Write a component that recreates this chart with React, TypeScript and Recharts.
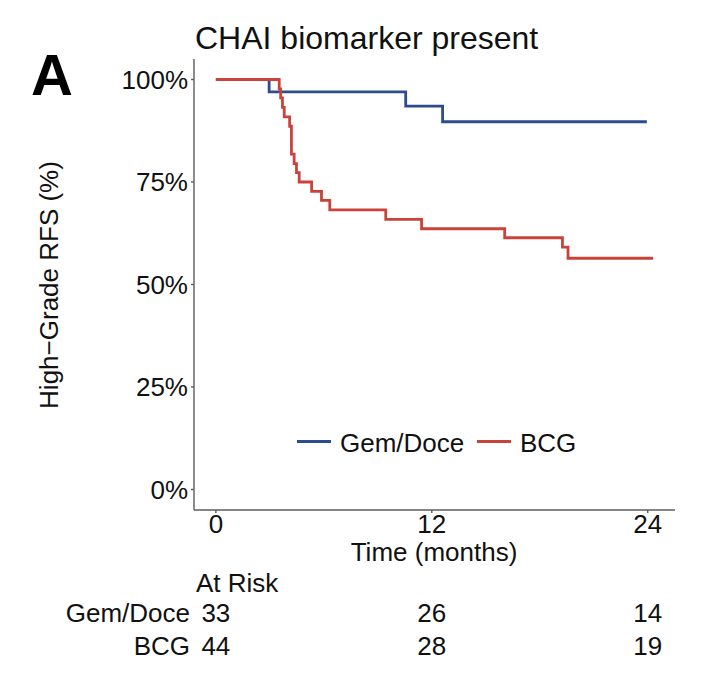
import React from 'react';
import { LineChart, Line, XAxis, YAxis } from 'recharts';

// Kaplan-Meier estimates (time in months, survival in %)
const gemDoceCurve = [
  { t: 0, s: 100 },
  { t: 2.96, s: 97.0 },
  { t: 10.55, s: 93.5 },
  { t: 12.6, s: 89.7 },
  { t: 23.95, s: 89.7 },
];

const bcgCurve = [
  { t: 0, s: 100 },
  { t: 3.52, s: 97.7 },
  { t: 3.6, s: 95.5 },
  { t: 3.7, s: 93.2 },
  { t: 3.8, s: 90.9 },
  { t: 4.1, s: 88.6 },
  { t: 4.2, s: 81.8 },
  { t: 4.35, s: 79.5 },
  { t: 4.48, s: 77.3 },
  { t: 4.63, s: 75.0 },
  { t: 5.32, s: 72.7 },
  { t: 5.87, s: 70.5 },
  { t: 6.33, s: 68.2 },
  { t: 9.44, s: 65.9 },
  { t: 11.43, s: 63.6 },
  { t: 16.05, s: 61.4 },
  { t: 19.26, s: 59.1 },
  { t: 19.57, s: 56.4 },
  { t: 24.3, s: 56.4 },
];

const timeTicks = [0, 12, 24];
const survivalTicks = [0, 25, 50, 75, 100];

const seriesNames = ['Gem/Doce', 'BCG'];
const seriesColors = ['#2C4C8D', '#C9433A'];
const atRiskGemDoce = [33, 26, 14];
const atRiskBcg = [44, 28, 19];

const FONT = '"Liberation Sans", Arial, Helvetica, sans-serif';
const AXIS_COLOR = '#5c5c5c';

const TimeTick = (props: any) => {
  const { x, y, payload } = props;
  const i = timeTicks.indexOf(payload.value);
  return (
    <g fontFamily={FONT} fontSize={26} fill="#111">
      <text x={x} y={y} dy="0.71em" textAnchor="middle">{payload.value}</text>
      <text x={x} y={622} textAnchor="middle">{atRiskGemDoce[i]}</text>
      <text x={x} y={655} textAnchor="middle">{atRiskBcg[i]}</text>
    </g>
  );
};

export default function App() {
  const legendX = [297, 477];
  return (
    <div style={{ position: 'absolute', left: 0, top: 0, width: 702, height: 690, background: '#fff' }}>
      <LineChart
        width={702}
        height={690}
        margin={{ top: 59, right: 27, bottom: 150, left: 134 }}
      >
        <XAxis
          type="number"
          dataKey="t"
          domain={[-1.215, 25.515]}
          allowDataOverflow
          ticks={timeTicks}
          height={30}
          tickSize={3}
          tickMargin={2}
          stroke={AXIS_COLOR}
          strokeWidth={1.4}
          tick={<TimeTick />}
        />
        <YAxis
          type="number"
          dataKey="s"
          domain={[-5, 105]}
          allowDataOverflow
          ticks={survivalTicks}
          width={60}
          tickSize={3}
          tickMargin={3}
          stroke={AXIS_COLOR}
          strokeWidth={1.4}
          tickFormatter={(v) => `${v}%`}
          tick={{ fill: '#111', fontSize: 26, fontFamily: FONT }}
        />
        <Line
          data={gemDoceCurve}
          dataKey="s"
          type="stepAfter"
          stroke={seriesColors[0]}
          strokeWidth={2.8}
          dot={false}
          activeDot={false}
          isAnimationActive={false}
        />
        <Line
          data={bcgCurve}
          dataKey="s"
          type="stepAfter"
          stroke={seriesColors[1]}
          strokeWidth={2.8}
          dot={false}
          activeDot={false}
          isAnimationActive={false}
        />
      </LineChart>
      <svg
        width={702}
        height={690}
        style={{ position: 'absolute', left: 0, top: 0, pointerEvents: 'none' }}
        fontFamily={FONT}
      >
        <text x={31} y={95} fontSize={58} fontWeight="bold" fill="#000">A</text>
        <text x={195} y={49} fontSize={32} fill="#111">CHAI biomarker present</text>
        <text
          x={58}
          y={285}
          fontSize={26}
          fill="#111"
          textAnchor="middle"
          transform="rotate(-90 58 285)"
        >
          High−Grade RFS (%)
        </text>
        <text x={434} y={561} fontSize={26} fill="#111" textAnchor="middle">Time (months)</text>
        <text x={196} y={592} fontSize={26} fill="#111">At Risk</text>
        <text x={190} y={622} fontSize={26} fill="#111" textAnchor="end">{seriesNames[0]}</text>
        <text x={190} y={655} fontSize={26} fill="#111" textAnchor="end">{seriesNames[1]}</text>
        {seriesNames.map((name, i) => (
          <g key={name}>
            <line x1={legendX[i]} x2={legendX[i] + 34} y1={441.5} y2={441.5} stroke={seriesColors[i]} strokeWidth={2.8} />
            <text x={legendX[i] + 43} y={451.5} fontSize={26} fill="#111">{name}</text>
          </g>
        ))}
      </svg>
    </div>
  );
}
